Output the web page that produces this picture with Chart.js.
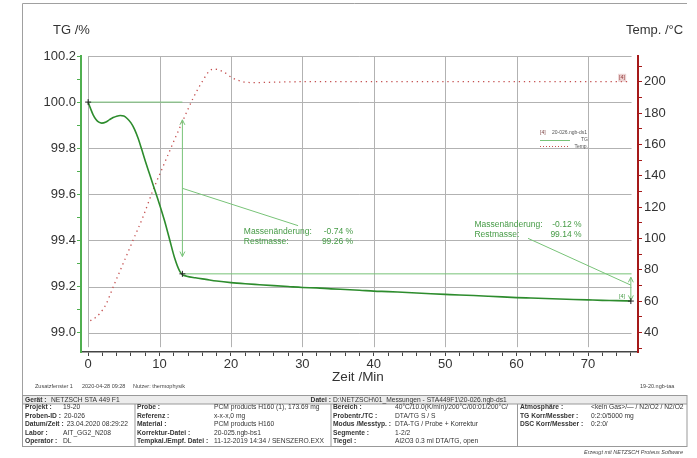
<!DOCTYPE html>
<html lang="de">
<head>
<meta charset="UTF-8">
<title>TG / Temp. 20-026</title>
<script src="https://cdn.jsdelivr.net/npm/chart.js"></script>
<style>
  body { margin: 0; background: #fff; }
  #wrap { position: relative; width: 697px; height: 458px; }
</style>
</head>
<body>
<div id="wrap"><canvas id="myChart" width="697" height="458"></canvas></div>
<script>
// TG curve: Zeit /Min -> TG /%
const tgTime = [0, 0.3, 0.7, 1.1, 1.5, 1.9, 2.5, 3.0, 3.5, 4.0, 4.5, 5.0, 5.5, 6.0, 6.5, 7.0, 7.5, 8.0, 8.6, 9.3,
  10.0, 10.7, 11.4, 12.1, 12.8, 13.2, 13.8, 15, 16.5, 18, 20, 22, 24, 26, 28, 30, 32, 34, 36, 38,
  40, 42, 44, 46, 48, 50, 52, 54, 56, 58, 60, 62, 64, 66, 68, 70, 72, 74, 76];
const tgValues = [100.0, 99.975, 99.945, 99.925, 99.913, 99.909, 99.914, 99.924, 99.933, 99.939, 99.942, 99.940, 99.928, 99.910, 99.882, 99.843, 99.795, 99.745, 99.688, 99.622,
  99.556, 99.485, 99.405, 99.325, 99.268, 99.252, 99.245, 99.238, 99.231, 99.224, 99.217, 99.212, 99.208, 99.204, 99.200, 99.196, 99.194, 99.190, 99.187, 99.184,
  99.180, 99.178, 99.175, 99.172, 99.169, 99.166, 99.163, 99.161, 99.158, 99.155, 99.152, 99.150, 99.148, 99.146, 99.144, 99.142, 99.140, 99.139, 99.137];

// Temperature curve: Zeit /Min -> Temp. /°C
const tempTime = [0.3, 1.0, 1.7, 2.5, 3.5, 4.9, 6.3, 7.7, 9.1, 10.5, 11.9, 13.3, 14.7, 16.1, 17.0, 17.7, 18.9, 20.3, 21.7, 23.2,
  25, 27, 30, 35, 40, 45, 50, 55, 60, 65, 70, 76];
const tempValues = [47.5, 49.5, 52.5, 58, 69, 84, 99, 114, 131, 146, 161, 175.5, 189.5, 201, 207, 208, 206.4, 202.2, 200, 199.4,
  199.6, 199.8, 200, 200, 200, 200, 200, 200, 200, 200, 200, 200];

// axis ticks
const timeTicks = [0, 10, 20, 30, 40, 50, 60, 70];
const timeMinor = [0, 2, 4, 6, 8, 10, 12, 14, 16, 18, 20, 22, 24, 26, 28, 30, 32, 34, 36, 38, 40, 42, 44, 46, 48, 50,
  52, 54, 56, 58, 60, 62, 64, 66, 68, 70, 72, 74, 76];
const tgTicks = [99.0, 99.2, 99.4, 99.6, 99.8, 100.0, 100.2];
const tgMinor = [99.0, 99.1, 99.2, 99.3, 99.4, 99.5, 99.6, 99.7, 99.8, 99.9, 100.0, 100.1, 100.2];
const tempTicks = [40, 60, 80, 100, 120, 140, 160, 180, 200];
const tempMinor = [30, 40, 50, 60, 70, 80, 90, 100, 110, 120, 130, 140, 150, 160, 170, 180, 190, 200, 210];

// mass change evaluation
const stepTimes = [0, 13.2, 76.0];
const stepLevels = [100.0, 99.255, 99.137];
const massChange = ['-0.74 %', '-0.12 %'];
const restMass = ['99.26 %', '99.14 %'];

// table texts
const infoLine = ['Zusatzfenster 1', '2020-04-28 09:28', 'Nutzer: thermophysik'];
const tableCols = [
  [['Projekt :', '19-20'], ['Proben-ID :', '20-026'], ['Datum/Zeit :', '23.04.2020 08:29:22'], ['Labor :', 'AIT_GG2_N208'], ['Operator :', 'DL']],
  [['Probe :', 'PCM products H160 (1), 173.69 mg'], ['Referenz :', 'x-x-x,0 mg'], ['Material :', 'PCM products H160'], ['Korrektur-Datei :', '20-025.ngb-bs1'], ['Tempkal./Empf. Datei :', '11-12-2019 14:34 / SENSZERO.EXX']],
  [['Bereich :', '40°C/10.0(K/min)/200°C/00:01/200°C/'], ['Probentr./TC :', 'DTA/TG S / S'], ['Modus /Messtyp. :', 'DTA-TG / Probe + Korrektur'], ['Segmente :', '1-2/2'], ['Tiegel :', 'Al2O3 0.3 ml DTA/TG, open']],
  [['Atmosphäre :', '<kein Gas>/— / N2/O2 / N2/O2'], ['TG Korr/Messber :', '0:2:0/5000 mg'], ['DSC Korr/Messber :', '0:2:0/']]
];

const FONT = "'Liberation Sans', Arial, sans-serif";
const C = {
  tg: 'rgb(45,140,45)',
  tgAxis: 'rgb(80,175,80)',
  light: 'rgb(120,195,120)',
  text: 'rgb(70,155,70)',
  temp: 'rgb(196,80,80)',
  tempAxis: 'rgb(165,25,25)',
  grid: 'rgb(178,178,178)',
  ink: '#333'
};

function seg(ctx, x1, y1, x2, y2) {
  ctx.beginPath(); ctx.moveTo(x1, y1); ctx.lineTo(x2, y2); ctx.stroke();
}

// grid lines only inside the measured range
const gridPlugin = {
  id: 'grid',
  beforeDatasetsDraw(chart) {
    const ctx = chart.ctx, x = chart.scales.x, y = chart.scales.yTG;
    ctx.save();
    ctx.strokeStyle = C.grid;
    ctx.lineWidth = 1;
    timeTicks.forEach(t => {
      const p = Math.round(x.getPixelForValue(t)) + 0.5;
      seg(ctx, p, y.getPixelForValue(100.2), p, y.getPixelForValue(98.937));
    });
    tgTicks.forEach(v => {
      const p = Math.round(y.getPixelForValue(v)) + 0.5;
      seg(ctx, x.getPixelForValue(0), p, x.getPixelForValue(76.1), p);
    });
    ctx.restore();
  }
};

function arrowV(ctx, xp, ya, yb) {
  seg(ctx, xp, ya, xp, yb);
  seg(ctx, xp - 2.5, ya + 5, xp, ya); seg(ctx, xp + 2.5, ya + 5, xp, ya);
  seg(ctx, xp - 2.5, yb - 5, xp, yb); seg(ctx, xp + 2.5, yb - 5, xp, yb);
}

function cross(ctx, xp, yp) {
  ctx.save();
  ctx.strokeStyle = '#222'; ctx.lineWidth = 1;
  seg(ctx, xp - 3, yp, xp + 3, yp);
  seg(ctx, xp, yp - 3, xp, yp + 3);
  ctx.restore();
}

const decorPlugin = {
  id: 'decor',
  afterDraw(chart) {
    const ctx = chart.ctx, x = chart.scales.x, y = chart.scales.yTG, yt = chart.scales.yT;
    const X = t => x.getPixelForValue(t), Y = v => y.getPixelForValue(v);
    ctx.save();

    // axis titles
    ctx.fillStyle = C.ink;
    ctx.textBaseline = 'middle';
    ctx.font = '13px ' + FONT;
    ctx.textAlign = 'left';
    ctx.fillText('TG /%', 53, 30);
    ctx.fillText('Temp. /°C', 626, 30);
    ctx.textAlign = 'center';
    ctx.font = '13.5px ' + FONT;
    ctx.fillText('Zeit /Min', 358, 377);

    // evaluation lines
    ctx.strokeStyle = C.light;
    ctx.lineWidth = 1;
    seg(ctx, X(stepTimes[0]), Y(stepLevels[0]), X(stepTimes[1]), Y(stepLevels[0]));
    seg(ctx, X(stepTimes[1]), Y(stepLevels[1]), X(76.1), Y(stepLevels[1]));
    arrowV(ctx, X(stepTimes[1]), Y(99.923), Y(99.33));
    arrowV(ctx, X(stepTimes[2]), Y(99.24), Y(99.14));
    seg(ctx, X(stepTimes[1]), Y(99.626), X(29.4), Y(99.464));
    seg(ctx, X(61.6), Y(99.409), X(stepTimes[2]), Y(99.206));

    // evaluation texts
    ctx.fillStyle = C.text;
    ctx.font = '8.5px ' + FONT;
    ctx.textAlign = 'left';
    ctx.fillText('Massenänderung:', X(21.8), Y(99.440));
    ctx.fillText('Restmasse:', X(21.8), Y(99.396));
    ctx.fillText('Massenänderung:', X(54.1), Y(99.467));
    ctx.fillText('Restmasse:', X(54.1), Y(99.423));
    ctx.textAlign = 'right';
    ctx.fillText(massChange[0], X(37.1), Y(99.440));
    ctx.fillText(restMass[0], X(37.1), Y(99.396));
    ctx.fillText(massChange[1], X(69.1), Y(99.467));
    ctx.fillText(restMass[1], X(69.1), Y(99.423));

    // markers
    cross(ctx, X(stepTimes[0]), Y(stepLevels[0]));
    cross(ctx, X(stepTimes[1]), Y(stepLevels[1]));
    cross(ctx, X(stepTimes[2]), Y(stepLevels[2]));

    // curve tags
    ctx.font = '5.5px ' + FONT;
    ctx.textAlign = 'right';
    ctx.fillStyle = 'rgba(200,130,130,0.35)';
    ctx.fillRect(X(75.2) - 7, yt.getPixelForValue(202.5) - 4, 8, 8);
    ctx.fillStyle = 'rgb(150,60,60)';
    ctx.fillText('[4]', X(75.2), yt.getPixelForValue(202.5));
    ctx.fillStyle = C.text;
    ctx.fillText('[4]', X(75.2), Y(99.155));

    // legend
    ctx.font = '5px ' + FONT;
    ctx.textAlign = 'left';
    ctx.fillStyle = 'rgb(120,60,60)';
    ctx.fillText('[4]', 540, 133);
    ctx.fillStyle = '#555';
    ctx.fillText('20-026.ngb-ds1', 552, 133);
    ctx.textAlign = 'right';
    ctx.fillText('TG', 588, 140);
    ctx.fillText('Temp.', 588, 147);
    ctx.strokeStyle = C.light;
    seg(ctx, 540, 140.5, 570, 140.5);
    ctx.strokeStyle = C.temp;
    ctx.setLineDash([1, 2]);
    seg(ctx, 540, 146.5, 570, 146.5);
    ctx.setLineDash([]);

    drawTable(ctx);
    ctx.restore();
  }
};

function drawTable(ctx) {
  ctx.save();
  ctx.strokeStyle = '#a0a0a0';
  ctx.lineWidth = 1;
  // outer frame
  seg(ctx, 22.5, 3.5, 687, 3.5);
  seg(ctx, 22.5, 3.5, 22.5, 447);

  ctx.textBaseline = 'middle';
  ctx.fillStyle = '#444';
  ctx.font = '5.5px ' + FONT;
  ctx.textAlign = 'left';
  ctx.fillText(infoLine[0], 35, 386);
  ctx.fillText(infoLine[1], 82, 386);
  ctx.fillText(infoLine[2], 133, 386);
  ctx.fillText('19-20.ngb-taa', 640, 386);

  // header band
  ctx.fillStyle = '#ececec';
  ctx.fillRect(23, 396, 664, 8);
  ctx.strokeStyle = '#999';
  ctx.strokeRect(22.5, 395.5, 664.5, 51);
  seg(ctx, 22.5, 404, 687, 404);
  [135, 331, 517.5].forEach(p => seg(ctx, p, 404, p, 446.5));

  ctx.fillStyle = C.ink;
  ctx.font = 'bold 6.7px ' + FONT;
  ctx.fillText('Gerät :', 25, 400);
  ctx.textAlign = 'right';
  ctx.fillText('Datei :', 331, 400);
  ctx.textAlign = 'left';
  ctx.font = '6.7px ' + FONT;
  ctx.fillText('NETZSCH STA 449 F1', 51, 400);
  ctx.fillText('D:\\NETZSCH\\01_Messungen - STA449F1\\20-026.ngb-ds1', 333, 400);

  const labelX = [25, 137, 333, 520];
  const valueX = [63, 214, 395, 591];
  tableCols.forEach((col, c) => {
    col.forEach((row, r) => {
      const yy = 407.5 + r * 8.4;
      ctx.font = 'bold 6.7px ' + FONT;
      ctx.fillText(row[0], labelX[c], yy);
      const end = labelX[c] + ctx.measureText(row[0]).width + 3;
      ctx.font = '6.7px ' + FONT;
      ctx.fillText(row[1], Math.max(valueX[c], end), yy);
    });
  });

  ctx.font = 'italic 5.5px ' + FONT;
  ctx.textAlign = 'right';
  ctx.fillStyle = '#444';
  ctx.fillText('Erzeugt mit NETZSCH Proteus Software', 683, 452);
  ctx.restore();
}

const tickFont = { family: FONT, size: 13 };

const data = {
  datasets: [{
    label: 'TG',
    data: tgTime.map((t, i) => ({ x: t, y: tgValues[i] })),
    yAxisID: 'yTG',
    borderColor: C.tg,
    borderWidth: 1.6,
    pointRadius: 0,
    cubicInterpolationMode: 'monotone'
  }, {
    label: 'Temp.',
    data: tempTime.map((t, i) => ({ x: t, y: tempValues[i] })),
    yAxisID: 'yT',
    borderColor: C.temp,
    borderWidth: 1.3,
    borderDash: [1.3, 3.8],
    pointRadius: 0,
    cubicInterpolationMode: 'monotone'
  }]
};

const config = {
  type: 'line',
  data: data,
  options: {
    responsive: false,
    animation: false,
    devicePixelRatio: 1,
    layout: { padding: { top: 56, left: 0, right: 0, bottom: 0 } },
    plugins: { legend: { display: false }, tooltip: { enabled: false } },
    scales: {
      x: {
        type: 'linear', min: -1, max: 77,
        afterFit: s => { s.height = 106; },
        afterBuildTicks: s => { s.ticks = timeMinor.map(v => ({ value: v })); },
        ticks: {
          autoSkip: false, maxRotation: 0, padding: 1, color: C.ink, font: tickFont,
          callback: v => timeTicks.includes(v) ? String(v) : ''
        },
        grid: { drawOnChartArea: false, tickLength: 4, color: '#444' },
        border: { color: '#444', width: 1.5 }
      },
      yTG: {
        position: 'left', min: 98.916, max: 100.2,
        afterFit: s => { s.width = 81; },
        afterBuildTicks: s => { s.ticks = tgMinor.map(v => ({ value: v })); },
        ticks: {
          autoSkip: false, padding: 1, color: C.ink, font: tickFont,
          callback: v => {
            const m = tgTicks.find(t => Math.abs(t - v) < 1e-6);
            return m === undefined ? '' : m.toFixed(1);
          }
        },
        grid: { drawOnChartArea: false, tickLength: 4, color: C.tgAxis },
        border: { color: C.tgAxis, width: 2 }
      },
      yT: {
        position: 'right', min: 27.6, max: 216.4,
        afterFit: s => { s.width = 59; },
        afterBuildTicks: s => { s.ticks = tempMinor.map(v => ({ value: v })); },
        ticks: {
          autoSkip: false, padding: 2, color: C.ink, font: tickFont,
          callback: v => tempTicks.includes(v) ? String(v) : ''
        },
        grid: { drawOnChartArea: false, tickLength: 4, color: C.tempAxis },
        border: { color: C.tempAxis, width: 2 }
      }
    }
  },
  plugins: [gridPlugin, decorPlugin]
};

const myChart = new Chart(document.getElementById('myChart'), config);
</script>
</body>
</html>
